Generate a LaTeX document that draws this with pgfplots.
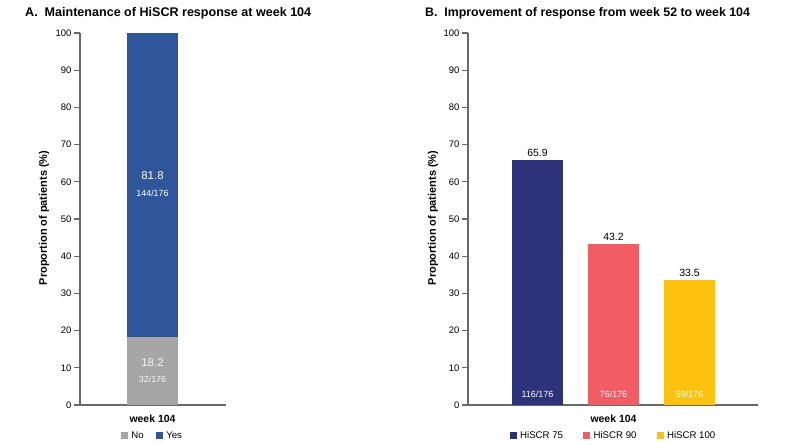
\documentclass[border=0pt]{standalone}
\usepackage{pgfplots}
\pgfplotsset{compat=1.18}
\usepackage{fontspec}
\setmainfont{Liberation Sans}
\definecolor{cyes}{RGB}{47,86,155}
\definecolor{cno}{RGB}{166,166,166}
\definecolor{c75}{RGB}{46,50,122}
\definecolor{c90}{RGB}{242,92,100}
\definecolor{c100}{RGB}{255,194,14}
\definecolor{axc}{RGB}{105,105,105}
\pgfplotsset{
  sq/.style={legend image code/.code={\fill[##1] (0bp,-3.5bp) rectangle (7bp,3.5bp);}},
  common/.style={
    scale only axis,
    height=372bp,
    ymin=0, ymax=100,
    ytick={0,10,...,100},
    axis x line=bottom,
    axis y line=left,
    axis line style={-, draw=axc, line width=1.5bp},
    y tick style={draw=axc, line width=1.1bp},
    major tick length=6bp,
    tick align=outside,
    x tick style={draw=none},
    /pgf/number format/assume math mode=true,
    yticklabel style={font=\fontsize{9.5}{11}\selectfont, black, xshift=1bp},
    xticklabel style={font=\fontsize{10.5}{12}\selectfont\bfseries, black, yshift=0bp},
    legend style={draw=none, fill=none, legend columns=-1,
      font=\fontsize{9.7}{11}\selectfont, inner sep=0pt},
    ybar, bar shift=0pt, bar width=51bp,
  }
}
\begin{document}
\begin{tikzpicture}
\path (0,0) rectangle (790bp,445bp);
% Titles
\node[anchor=west, font=\fontsize{12.6}{14}\selectfont\bfseries, inner sep=0pt] at (25bp,432bp) {A.\ \ Maintenance of HiSCR response at week 104};
\node[anchor=west, font=\fontsize{12.4}{14}\selectfont\bfseries, inner sep=0pt] at (425bp,432bp) {B.\ \ Improvement of response from week 52 to week 104};
% y labels
\node[rotate=90, font=\fontsize{11}{12}\selectfont\bfseries] at (44bp,227bp) {Proportion of patients (\%)};
\node[rotate=90, font=\fontsize{11}{12}\selectfont\bfseries] at (433bp,227bp) {Proportion of patients (\%)};

\begin{axis}[common,
  at={(80bp,40bp)}, anchor=south west,
  width=146bp, xmin=0, xmax=146,
  xtick={72.5}, xticklabels={week 104},
  legend style={at={(axis cs:72.5,-8.3)}, anchor=center,
    /tikz/every odd column/.append style={column sep=1.5bp},
    /tikz/every even column/.append style={column sep=10bp}},
  ybar stacked,
]
\addplot[fill=cno, draw=none, sq] coordinates {(72.5,18.2)};
\addplot[fill=cyes, draw=none, sq] coordinates {(72.5,81.8)};
\legend{No, Yes}
\coordinate (y1) at (axis cs:72.5,61.6);
\coordinate (y2) at (axis cs:72.5,57.0);
\coordinate (n1) at (axis cs:72.5,11.3);
\coordinate (n2) at (axis cs:72.5,7.0);
\end{axis}
\node[white, font=\fontsize{11.5}{13}\selectfont] at (y1) {81.8};
\node[white, font=\fontsize{9}{10}\selectfont] at (y2) {144/176};
\node[white!93!gray, font=\fontsize{11.5}{13}\selectfont] at (n1) {18.2};
\node[white!93!gray, font=\fontsize{9}{10}\selectfont] at (n2) {32/176};

\begin{axis}[common,
  at={(468bp,40bp)}, anchor=south west,
  width=290bp, xmin=0, xmax=290,
  xtick={145.5}, xticklabels={week 104},
  legend style={at={(axis cs:145.5,-8.3)}, anchor=center,
    /tikz/every odd column/.append style={column sep=1.5bp},
    /tikz/every even column/.append style={column sep=18bp}},
  nodes near coords,
  nodes near coords style={black, font=\fontsize{10.5}{12}\selectfont, /pgf/number format/fixed, /pgf/number format/precision=1, /pgf/number format/fixed zerofill},
]
\addplot[fill=c75, draw=none, sq] coordinates {(69.5,65.9)};
\addplot[fill=c90, draw=none, sq] coordinates {(145.5,43.2)};
\addplot[fill=c100, draw=none, sq] coordinates {(221.5,33.5)};
\legend{HiSCR 75, HiSCR 90, HiSCR 100}
\node[white, font=\fontsize{9}{10}\selectfont] at (axis cs:69.5,2.8) {116/176};
\node[white, font=\fontsize{9}{10}\selectfont] at (axis cs:145.5,2.8) {76/176};
\node[white, font=\fontsize{9}{10}\selectfont] at (axis cs:221.5,2.8) {59/176};
\end{axis}
\end{tikzpicture}
\end{document}
